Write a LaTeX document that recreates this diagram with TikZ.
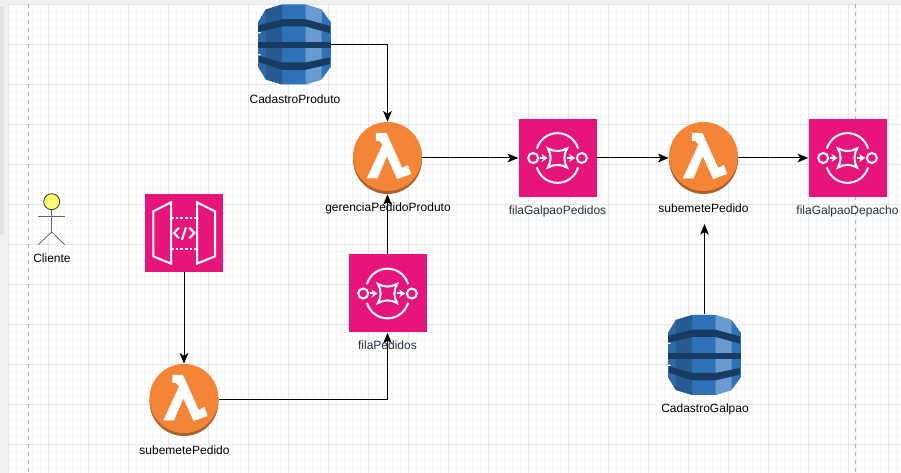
\documentclass[tikz,border=0pt]{standalone}
\usepackage{fontspec}
\setmainfont{Liberation Sans}
\usetikzlibrary{arrows.meta}
\definecolor{awspink}{HTML}{E7157B}
\definecolor{awsorange}{HTML}{F58536}
\definecolor{awsshade}{HTML}{A9622E}
\definecolor{dynmain}{HTML}{2E73B8}
\definecolor{dynouter}{HTML}{2F6AA6}
\definecolor{dynleft}{HTML}{265A91}
\definecolor{dynright}{HTML}{6A9BD0}
\definecolor{dynband}{HTML}{173B61}
\definecolor{inklabel}{HTML}{232F3E}
\tikzset{
	gridmajor/.style={draw=black!10,line width=0.75pt},
	gridminor/.style={draw=black!3.5,line width=0.75pt},
	pagedash/.style={draw=black!30,line width=0.75pt,dash pattern=on 3pt off 3pt},
	iconbox/.style={inner sep=0pt,minimum width=58.5pt,minimum height=58.5pt,fill=awspink},
	lambdabox/.style={inner sep=0pt,minimum width=51.75pt,minimum height=54pt},
	dynbox/.style={inner sep=0pt,minimum width=54.75pt,minimum height=61.5pt},
	lbl/.style={inner sep=0pt,font=\fontsize{9}{10}\selectfont},
	lblaws/.style={lbl,text=inklabel},
	conn/.style={draw=black,line width=0.75pt,-{Stealth[length=8pt,width=6.5pt,inset=2pt]}},
	iconline/.style={draw=white,line width=1.5pt},
	sqsicon/.pic={
		\begin{scope}[scale=1/3]
		\draw[iconline] (-73,0) circle (15) (73,0) circle (15);
		\draw[iconline] (-62,-28) .. controls (-42,-90) and (42,-90) .. (62,-28);
		\draw[iconline] (-62,28) .. controls (-42,90) and (42,90) .. (62,28);
		\draw[iconline] (-29,-29) .. controls (-10,-18) and (10,-18) .. (29,-29) .. controls (18,-10) and (18,10) .. (29,29) .. controls (10,18) and (-10,18) .. (-29,29) .. controls (-18,10) and (-18,-10) .. (-29,-29) -- cycle;
		\draw[iconline,-{Stealth[length=4.5pt,width=6pt]}] (-54,0) -- (-30,0);
		\draw[iconline,-{Stealth[length=4.5pt,width=6pt]}] (28,0) -- (53,0);
		\end{scope}
	},
	apiicon/.pic={
		\begin{scope}[scale=1/3]
		\draw[iconline,line join=miter] (-92,-65) -- (-39,-92) -- (-39,92) -- (-92,70) -- cycle;
		\draw[iconline,line join=miter] (39,-92) -- (93,-65) -- (93,70) -- (39,92) -- cycle;
		\draw[iconline,dash pattern=on 2pt off 1.5pt] (-39,-45) -- (39,-45);
		\draw[iconline,dash pattern=on 2pt off 1.5pt] (-39,48) -- (39,48);
		\draw[iconline] (-15,-16) -- (-30,0) -- (-15,16);
		\draw[iconline] (6,-17) -- (-6,20);
		\draw[iconline] (16,-16) -- (31,0) -- (16,16);
		\end{scope}
	},
	lambdaicon/.pic={
		\begin{scope}[scale=1/3]
		\fill[awsshade] (0,4.5) circle (103.5);
		\fill[awsorange] (0,-4.5) circle (103.5);
		\fill[white] (-35,-75) -- (-3,-75) -- (44,30) -- (61,21) -- (71,48) -- (29,63) -- (-2,-5) -- (-30,61) -- (-62,61) -- (-15,-40) -- (-24,-51) -- (-35,-51) -- cycle;
		\end{scope}
	},
	dynicon/.pic={
		\begin{scope}[scale=1/3]
		\fill[dynmain] (-37,-120) -- (33,-120) -- (81,-105) -- (109,-67) -- (109,67) -- (81,105) -- (33,120) -- (-37,120) -- (-86,105) -- (-109,67) -- (-109,-67) -- (-86,-105) -- cycle;
		\fill[dynouter] (-86,-105) -- (-109,-67) -- (-109,67) -- (-86,105) -- cycle;
		\fill[dynleft] (-37,-120) -- (-86,-105) -- (-86,105) -- (-37,120) -- cycle;
		\fill[dynright] (33,-120) -- (81,-105) -- (81,105) -- (33,120) -- cycle;
		\fill[dynband] (-109,-58) -- (-37,-76) -- (33,-76) -- (106,-56) -- (106,-34) -- (33,-54) -- (-37,-54) -- (-109,-37) -- cycle;
		\fill[dynband] (-109,-7) -- (109,-7) -- (109,11) -- (-109,11) -- cycle;
		\fill[dynband] (-106,34) -- (-37,54) -- (33,54) -- (106,39) -- (106,59) -- (33,76) -- (-37,76) -- (-106,53) -- cycle;
		\fill[white] (-110,-37) rectangle (-102,-33) (-110,29) rectangle (-102,33);
		\end{scope}
	}
}
\begin{document}
\begin{tikzpicture}[x=0.75pt,y=-0.75pt]
	\useasboundingbox (0,0) rectangle (901,473);
	\fill[white] (0,0) rectangle (901,473);
	% grid
	\foreach \gx in {8,16,...,904} \draw[gridminor] (\gx+0.5,4) -- (\gx+0.5,473);
	\foreach \gy in {4,12,...,476} \draw[gridminor] (8,\gy+0.5) -- (901,\gy+0.5);
	\foreach \gx in {8,48,...,888} \draw[gridmajor] (\gx+0.5,4) -- (\gx+0.5,473);
	\foreach \gy in {4,44,...,444} \draw[gridmajor] (8,\gy+0.5) -- (901,\gy+0.5);
	\fill[black!6] (0,0) rectangle (901,4);
	\fill[black!6] (0,0) rectangle (8,473);
	\fill[black!12] (0,7) rectangle (4,235);
	\draw[pagedash] (28.5,4) -- (28.5,473);
	\draw[pagedash] (855.5,4) -- (855.5,473);

	% actor
	\node[circle,draw=black!80,fill=yellow!55,line width=0.6pt,inner sep=0pt,minimum size=12pt] (clienteHead) at (51.7,201.7) {};
	\coordinate (clienteHip) at (51.7,232);
	\draw[black!60,line width=0.75pt] (clienteHead) -- (clienteHip);
	\draw[black!60,line width=0.75pt] (38,217) -- (65,217);
	\draw[black!70,line width=0.5pt] (38,245) -- (clienteHip) -- (65,245);
	\node[lbl] (clienteLbl) at (52,258) {Cliente};

	% services
	\node[dynbox] (dynProduto) at (294.5,44.5) {};
	\pic at (dynProduto) {dynicon};
	\node[dynbox] (dynGalpao) at (704.5,355) {};
	\pic at (dynGalpao) {dynicon};
	\node[iconbox] (apiPedido) at (184,233) {};
	\pic at (apiPedido) {apiicon};
	\node[iconbox] (filaPedidos) at (387.5,293.5) {};
	\pic at (filaPedidos) {sqsicon};
	\node[iconbox] (filaGalpao) at (557.5,158) {};
	\pic at (filaGalpao) {sqsicon};
	\node[iconbox] (filaDepacho) at (847.5,158) {};
	\pic at (filaDepacho) {sqsicon};
	\node[lambdabox] (lamGerencia) at (387.5,158) {};
	\pic at (lamGerencia) {lambdaicon};
	\node[lambdabox] (lamGalpao) at (703.5,158) {};
	\pic at (lamGalpao) {lambdaicon};
	\node[lambdabox] (lamPedido) at (184,400) {};
	\pic at (lamPedido) {lambdaicon};

	% connectors
	\draw[conn] (dynProduto.east) -| (lamGerencia.north);
	\draw[conn] (lamGerencia.east) -- (filaGalpao.west);
	\draw[conn] (filaGalpao.east) -- (lamGalpao.west);
	\draw[conn] (lamGalpao.east) -- (filaDepacho.west);
	\draw[conn] (filaPedidos.north) -- (lamGerencia.south);
	\draw[conn] (apiPedido.south) -- (lamPedido.north);
	\draw[conn] (lamPedido.east) -| (filaPedidos.south);
	\coordinate (lamGalpaoIn) at (lamGalpao.center |- 0,224);
	\draw[conn] (dynGalpao.north) -- (dynGalpao.north |- lamGalpaoIn);

	% labels
	\node[lbl] (lblProduto) at (295,99.5) {CadastroProduto};
	\node[lbl] (lblGerencia) at (388,208) {gerenciaPedidoProduto};
	\node[lblaws] (lblGalpaoFila) at (557.5,211.5) {filaGalpaoPedidos};
	\node[lbl] (lblGalpaoLam) at (703.5,208) {subemetePedido};
	\node[lblaws] (lblDepacho) at (847.5,211.5) {filaGalpaoDepacho};
	\node[lblaws] (lblFilaPedidos) at (387.5,345.5) {filaPedidos};
	\node[lbl] (lblPedido) at (184.5,450.5) {subemetePedido};
	\node[lbl] (lblGalpao) at (705,409.5) {CadastroGalpao};
\end{tikzpicture}
\end{document}
